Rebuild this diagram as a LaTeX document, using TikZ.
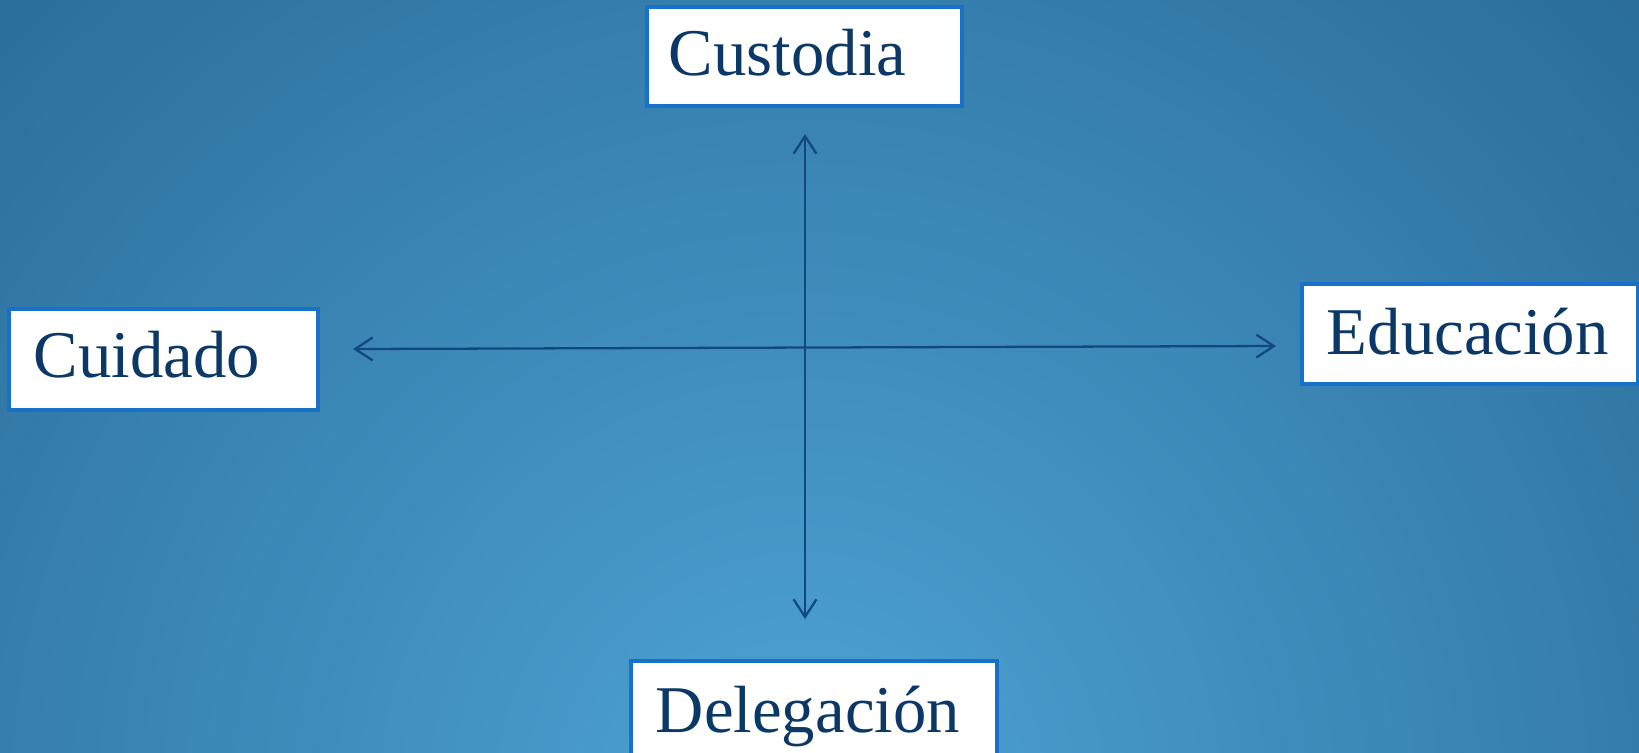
\documentclass[tikz,border=0pt]{standalone}
\usepackage{fontspec}
\setmainfont{Liberation Serif}
\usetikzlibrary{arrows.meta}
\definecolor{bginner}{RGB}{78,163,211}
\definecolor{bgouter}{RGB}{24,82,128}
\definecolor{boxblue}{RGB}{24,112,200}
\definecolor{textblue}{RGB}{11,56,102}
\definecolor{arrowblue}{RGB}{18,72,130}

\begin{document}
\begin{tikzpicture}[x=0.02cm,y=-0.02cm,
  box/.style={draw=boxblue, line width=2.2pt, fill=white, text=textblue, anchor=north west,
    align=left, inner ysep=0pt, font=\fontsize{38}{40}\selectfont},
  axis/.style={draw=arrowblue, line width=1.3pt, {Straight Barb[length=10pt,width=13pt]}-{Straight Barb[length=10pt,width=13pt]}}]
\useasboundingbox (0,0) rectangle (1639,752);
\begin{scope}
\clip (0,0) rectangle (1639,752);
\shade[inner color=bginner, outer color=bgouter] (800,800) circle (1750);
\end{scope}
% boxes
\node[box, inner xsep=0.44cm, text width=5.42cm, text height=1.38cm, text depth=0.6cm] (custodia) at (645,5) {Custodia};
\node[box, inner xsep=0.5cm, text width=5.18cm, text height=1.38cm, text depth=0.64cm] (cuidado) at (7,307) {Cuidado};
\node[box, inner xsep=0.5cm, text width=5.72cm, text height=1.42cm, text depth=0.58cm] (educacion) at (1300,282) {Educación};
\node[box, inner xsep=0.5cm, text width=6.32cm, text height=1.44cm, text depth=0.8cm] (delegacion) at (629,659) {Delegación};
% axes
\coordinate (wtip) at (353,349);
\coordinate (etip) at (1276,346);
\coordinate (ntip) at (805,134);
\coordinate (stip) at (805,619);
\draw[axis] (wtip) -- (etip);
\draw[axis] (ntip) -- (stip);
\end{tikzpicture}
\end{document}
